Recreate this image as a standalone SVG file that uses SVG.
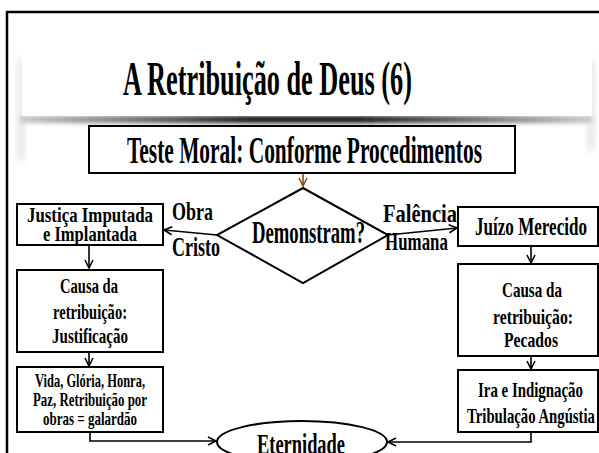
<svg xmlns="http://www.w3.org/2000/svg" width="599" height="453" viewBox="0 0 599 453">
<style>
.t{font-family:"Liberation Serif","DejaVu Serif",serif;font-weight:bold;fill:#000}
.box{fill:#fff;stroke:#000;stroke-width:2}
.ln{fill:none;stroke:#000;stroke-width:1.6}
</style>
<defs>
<marker id="ah" markerUnits="userSpaceOnUse" markerWidth="12" markerHeight="12" refX="9" refY="5" orient="auto">
<path d="M1,1 L9,5 L1,9" fill="none" stroke="#000" stroke-width="1.6"/>
</marker>
<marker id="ahb" markerUnits="userSpaceOnUse" markerWidth="12" markerHeight="12" refX="9" refY="5" orient="auto">
<path d="M1,1 L9,5 L1,9" fill="none" stroke="#8B4A14" stroke-width="1.6"/>
</marker>
<linearGradient id="bar" x1="0" x2="1" y1="0" y2="0">
<stop offset="0" stop-color="#c8c8c8"/>
<stop offset="0.4" stop-color="#111"/>
<stop offset="0.6" stop-color="#111"/>
<stop offset="1" stop-color="#c8c8c8"/>
</linearGradient>
<filter id="blur" x="-10%" y="-100%" width="120%" height="300%"><feGaussianBlur stdDeviation="2"/></filter>
<filter id="blur2" x="-50%" y="-50%" width="200%" height="200%"><feGaussianBlur stdDeviation="4"/></filter>
</defs>
<rect width="599" height="453" fill="#fff"/>
<!-- frame -->
<path d="M7,453 V12 H599" fill="none" stroke="#000" stroke-width="2.5"/>
<g id="title-panel">
<rect x="18" y="60" width="6" height="100" fill="#ddd" filter="url(#blur2)"/>
<rect x="588" y="60" width="6" height="90" fill="#ddd" filter="url(#blur2)"/>
<rect x="20" y="116" width="572" height="7" fill="url(#bar)" filter="url(#blur)"/>
<rect x="22" y="14" width="570" height="102" fill="#fff"/>
<text class="t" x="123" y="95" font-size="48" textLength="289" lengthAdjust="spacingAndGlyphs">A Retribuição de Deus (6)</text>
</g>
<g id="connectors">
<line x1="303" y1="173" x2="303" y2="186" stroke="#8B4A14" stroke-width="1.6" marker-end="url(#ahb)"/>
<line class="ln" x1="217" y1="235" x2="164" y2="230" marker-end="url(#ah)"/>
<line class="ln" x1="388" y1="235" x2="457" y2="228" marker-end="url(#ah)"/>
<line class="ln" x1="89" y1="245" x2="89" y2="268" marker-end="url(#ah)"/>
<line class="ln" x1="89" y1="352" x2="89" y2="366" marker-end="url(#ah)"/>
<polyline class="ln" points="90,432 90,441 216,441" marker-end="url(#ah)"/>
<line class="ln" x1="531" y1="246" x2="531" y2="263" marker-end="url(#ah)"/>
<line class="ln" x1="531" y1="356" x2="531" y2="369" marker-end="url(#ah)"/>
<polyline class="ln" points="531,432 531,442 388,442" marker-end="url(#ah)"/>
</g>
<g id="teste">
<rect class="box" x="89" y="126" width="426" height="47"/>
<text class="t" x="127" y="163" font-size="37" textLength="355" lengthAdjust="spacingAndGlyphs">Teste Moral: Conforme Procedimentos</text>
</g>
<g id="demonstram">
<polygon points="303,188 388,235 303,283 217,235" fill="#fff" stroke="#000" stroke-width="2"/>
<text class="t" x="252" y="243" font-size="31" textLength="113" lengthAdjust="spacingAndGlyphs">Demonstram?</text>
</g>
<g id="label-obra">
<text class="t" x="172" y="220" font-size="25" textLength="41" lengthAdjust="spacingAndGlyphs">Obra</text>
<text class="t" x="172" y="256" font-size="27" textLength="48" lengthAdjust="spacingAndGlyphs">Cristo</text>
</g>
<g id="label-falencia">
<text class="t" x="383" y="222" font-size="25" textLength="74" lengthAdjust="spacingAndGlyphs">Falência</text>
<text class="t" x="385" y="250" font-size="26" textLength="63" lengthAdjust="spacingAndGlyphs">Humana</text>
</g>
<g id="justica">
<rect class="box" x="17" y="204" width="146" height="41"/>
<text class="t" x="27" y="222" font-size="21" textLength="126" lengthAdjust="spacingAndGlyphs">Justiça Imputada</text>
<text class="t" x="43" y="241" font-size="21" textLength="94" lengthAdjust="spacingAndGlyphs">e Implantada</text>
</g>
<g id="causa-just">
<rect class="box" x="17" y="270" width="146" height="82"/>
<text class="t" x="60" y="293" font-size="20" textLength="58" lengthAdjust="spacingAndGlyphs">Causa da</text>
<text class="t" x="53" y="319" font-size="20" textLength="74" lengthAdjust="spacingAndGlyphs">retribuição:</text>
<text class="t" x="52" y="343" font-size="20" textLength="76" lengthAdjust="spacingAndGlyphs">Justificação</text>
</g>
<g id="vida">
<rect class="box" x="17" y="367" width="146" height="65"/>
<text class="t" x="35" y="387" font-size="19" textLength="110" lengthAdjust="spacingAndGlyphs">Vida, Glória, Honra,</text>
<text class="t" x="33" y="406" font-size="19" textLength="114" lengthAdjust="spacingAndGlyphs">Paz, Retribuição por</text>
<text class="t" x="43" y="425" font-size="19" textLength="94" lengthAdjust="spacingAndGlyphs">obras = galardão</text>
</g>
<g id="juizo">
<rect class="box" x="458" y="207" width="140" height="39"/>
<text class="t" x="475" y="235" font-size="25" textLength="112" lengthAdjust="spacingAndGlyphs">Juízo Merecido</text>
</g>
<g id="causa-pec">
<rect class="box" x="458" y="264" width="140" height="92"/>
<text class="t" x="502" y="297" font-size="22" textLength="60" lengthAdjust="spacingAndGlyphs">Causa da</text>
<text class="t" x="493" y="324" font-size="22" textLength="80" lengthAdjust="spacingAndGlyphs">retribuição:</text>
<text class="t" x="504" y="347" font-size="22" textLength="54" lengthAdjust="spacingAndGlyphs">Pecados</text>
</g>
<g id="ira">
<rect class="box" x="458" y="370" width="140" height="62"/>
<text class="t" x="478" y="397" font-size="21" textLength="105" lengthAdjust="spacingAndGlyphs">Ira e Indignação</text>
<text class="t" x="467" y="423" font-size="21" textLength="128" lengthAdjust="spacingAndGlyphs">Tribulação Angústia</text>
</g>
<g id="eternidade">
<ellipse cx="302" cy="442" rx="85" ry="21" fill="#fff" stroke="#000" stroke-width="2"/>
<text class="t" x="257" y="454" font-size="30" textLength="88" lengthAdjust="spacingAndGlyphs">Eternidade</text>
</g>
</svg>
